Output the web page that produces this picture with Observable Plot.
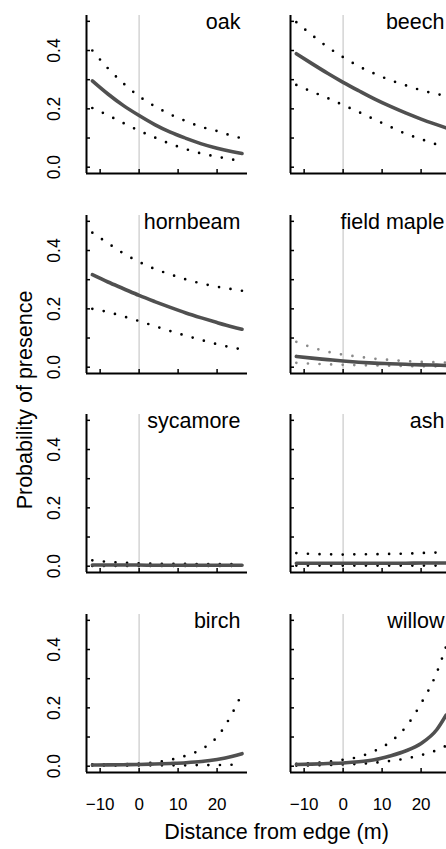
<!DOCTYPE html>
<html><head><meta charset="utf-8">
<script src="https://cdn.jsdelivr.net/npm/d3@7"></script>
<script src="https://cdn.jsdelivr.net/npm/@observablehq/plot@0.6"></script>
<style>
html,body{margin:0;padding:0;background:#fff;overflow:hidden;}
#chart{position:relative;width:446px;height:849px;overflow:hidden;font-family:"Liberation Sans",Arial,Helvetica,sans-serif;color:#000;}
.panel{position:absolute;}
.panel svg{max-width:none !important;background:transparent !important;display:block;}
.atitle{position:absolute;font-size:21.5px;line-height:1;white-space:nowrap;}
</style></head><body><div id="chart"></div><script>
// distance from edge (m) at which the curves are read
const distance = [-12, -8, -4, 0, 4, 8, 12, 16, 20, 24, 26.4];
const species = ["oak", "beech", "hornbeam", "field maple", "sycamore", "ash", "birch", "willow"];

const oakFit   = [0.296, 0.251, 0.211, 0.177, 0.146, 0.120, 0.099, 0.080, 0.065, 0.053, 0.047];
const oakLower = [0.203, 0.178, 0.151, 0.125, 0.102, 0.080, 0.062, 0.047, 0.036, 0.026, 0.021];
const oakUpper = [0.400, 0.339, 0.287, 0.243, 0.209, 0.181, 0.158, 0.138, 0.124, 0.107, 0.099];

const beechFit   = [0.389, 0.355, 0.322, 0.291, 0.262, 0.234, 0.209, 0.186, 0.165, 0.146, 0.135];
const beechLower = [0.282, 0.259, 0.237, 0.213, 0.189, 0.164, 0.139, 0.115, 0.096, 0.078, 0.068];
const beechUpper = [0.497, 0.453, 0.412, 0.377, 0.346, 0.321, 0.299, 0.281, 0.264, 0.251, 0.244];

const hornbeamFit   = [0.317, 0.292, 0.269, 0.246, 0.225, 0.205, 0.186, 0.169, 0.153, 0.138, 0.130];
const hornbeamLower = [0.200, 0.189, 0.174, 0.158, 0.141, 0.124, 0.108, 0.093, 0.079, 0.067, 0.061];
const hornbeamUpper = [0.461, 0.425, 0.390, 0.361, 0.337, 0.318, 0.301, 0.287, 0.276, 0.267, 0.262];

const fieldMapleFit   = [0.037, 0.031, 0.026, 0.021, 0.017, 0.014, 0.012, 0.010, 0.008, 0.007, 0.006];
const fieldMapleLower = [0.015, 0.012, 0.010, 0.008, 0.007, 0.006, 0.005, 0.004, 0.003, 0.003, 0.002];
const fieldMapleUpper = [0.087, 0.068, 0.053, 0.043, 0.036, 0.029, 0.025, 0.021, 0.018, 0.017, 0.016];

const sycamoreFit   = [0.004, 0.004, 0.004, 0.004, 0.003, 0.003, 0.003, 0.003, 0.003, 0.003, 0.003];
const sycamoreLower = [0.001, 0.001, 0.001, 0.001, 0.001, 0.001, 0.001, 0.001, 0.001, 0.001, 0.001];
const sycamoreUpper = [0.020, 0.015, 0.012, 0.010, 0.009, 0.008, 0.008, 0.007, 0.007, 0.007, 0.007];

const ashFit   = [0.010, 0.010, 0.010, 0.010, 0.010, 0.010, 0.010, 0.010, 0.011, 0.011, 0.011];
const ashLower = [0.002, 0.002, 0.002, 0.002, 0.002, 0.002, 0.002, 0.002, 0.002, 0.002, 0.002];
const ashUpper = [0.045, 0.042, 0.041, 0.040, 0.041, 0.041, 0.042, 0.043, 0.045, 0.047, 0.049];

const birchFit   = [0.004, 0.0045, 0.005, 0.006, 0.0075, 0.0095, 0.012, 0.016, 0.023, 0.034, 0.043];
const birchLower = [0.002, 0.002, 0.002, 0.003, 0.003, 0.003, 0.003, 0.004, 0.004, 0.005, 0.006];
const birchUpper = [0.006, 0.0065, 0.007, 0.009, 0.013, 0.022, 0.036, 0.058, 0.100, 0.184, 0.250];

const willowFit   = [0.006, 0.007, 0.009, 0.011, 0.015, 0.022, 0.035, 0.052, 0.078, 0.125, 0.175];
const willowLower = [0.002, 0.003, 0.004, 0.006, 0.008, 0.012, 0.018, 0.026, 0.038, 0.055, 0.070];
const willowUpper = [0.008, 0.011, 0.015, 0.022, 0.032, 0.052, 0.082, 0.133, 0.215, 0.320, 0.410];

const yTickValues = [0, 0.1, 0.2, 0.3, 0.4, 0.5];
const yLabelValues = [0, 0.2, 0.4];
const yLabelText = ["0.0", "0.2", "0.4"];
const xTickValues = [-10, 0, 10, 20];
const xLabelText = ["\u221210", "0", "10", "20"];

const series = {
  "oak": [oakFit, oakLower, oakUpper],
  "beech": [beechFit, beechLower, beechUpper],
  "hornbeam": [hornbeamFit, hornbeamLower, hornbeamUpper],
  "field maple": [fieldMapleFit, fieldMapleLower, fieldMapleUpper],
  "sycamore": [sycamoreFit, sycamoreLower, sycamoreUpper],
  "ash": [ashFit, ashLower, ashUpper],
  "birch": [birchFit, birchLower, birchUpper],
  "willow": [willowFit, willowLower, willowUpper]
};

const xDomain = [-13.5, 27.8];
const yDomain = [-0.0216, 0.52];
const FONT = '"Liberation Sans", Arial, Helvetica, sans-serif';
const chart = document.getElementById("chart");

species.forEach((name, i) => {
  const col = i % 2, row = Math.floor(i / 2);
  const [fit, lower, upper] = series[name];
  const rows = distance.map((x, j) => ({x, fit: fit[j], lower: lower[j], upper: upper[j]}));
  const bottom = row === 3;
  const mt = 12, mb = bottom ? 52 : 4, ml = 86, mr = 6, fw = 161, fh = 158;
  const dotColor = name === "field maple" ? "#8a8a8a" : "#000";
  const dotted = {stroke: dotColor, strokeWidth: 2.7, strokeDasharray: "0 11.6", strokeLinecap: "round", curve: "monotone-x"};
  const marks = [
    Plot.ruleX([0], {stroke: "#d4d4d4", strokeWidth: 1.5}),
    Plot.line(rows, {x: "x", y: "upper", ...dotted}),
    Plot.line(rows, {x: "x", y: "lower", ...dotted}),
    Plot.line(rows, {x: "x", y: "fit", stroke: "#505050", strokeWidth: 3.6, curve: "monotone-x"}),
    Plot.axisY({ticks: yTickValues, tickSize: 4, dx: 4, tickFormat: () => "", label: null, strokeWidth: 1.5}),
    Plot.axisX({ticks: xTickValues, tickSize: 4, dy: -4, tickFormat: () => "", label: null, strokeWidth: 1.5}),
    Plot.ruleX([xDomain[0]], {stroke: "#000", strokeWidth: 2}),
    Plot.ruleY([yDomain[0]], {stroke: "#000", strokeWidth: 2}),
    Plot.text([name], {text: d => d, frameAnchor: "top-right", textAnchor: "end", lineAnchor: "top", dx: -7, dy: -2, fontSize: 21.5, fill: "#000"})
  ];
  if (col === 0) {
    const yl = yLabelValues.map((v, k) => ({v, t: yLabelText[k]}));
    marks.push(Plot.text(yl, {y: "v", text: "t", frameAnchor: "left", textAnchor: "middle", lineAnchor: "middle", dx: -31.8, rotate: -90, fontSize: 17.5, fill: "#000"}));
  }
  if (bottom) {
    const xl = xTickValues.map((v, k) => ({v, t: xLabelText[k]}));
    marks.push(Plot.text(xl, {x: "v", text: "t", frameAnchor: "bottom", textAnchor: "middle", lineAnchor: "middle", dy: 32.3, fontSize: 17, fill: "#000"}));
  }
  const svg = Plot.plot({
    width: ml + fw + mr,
    height: mt + fh + mb,
    marginLeft: ml, marginRight: mr, marginTop: mt, marginBottom: mb,
    x: {domain: xDomain},
    y: {domain: yDomain},
    style: {fontFamily: FONT, background: "transparent", overflow: "visible", maxWidth: "none"},
    marks
  });
  const div = document.createElement("div");
  div.className = "panel";
  div.style.left = (col * 204) + "px";
  div.style.top = (15 + row * 199.5 - mt) + "px";
  div.style.width = (ml + fw + mr) + "px";
  div.appendChild(svg);
  chart.appendChild(div);
});

const yt = document.createElement("div");
yt.className = "atitle";
yt.textContent = "Probability of presence";
yt.style.left = "25.5px";
yt.style.top = "400px";
yt.style.transform = "translate(-50%, -50%) rotate(-90deg)";
chart.appendChild(yt);

const xt = document.createElement("div");
xt.className = "atitle";
xt.textContent = "Distance from edge (m)";
xt.style.left = "276.5px";
xt.style.top = "821.8px";
xt.style.transform = "translateX(-50%)";
chart.appendChild(xt);
</script></body></html>
